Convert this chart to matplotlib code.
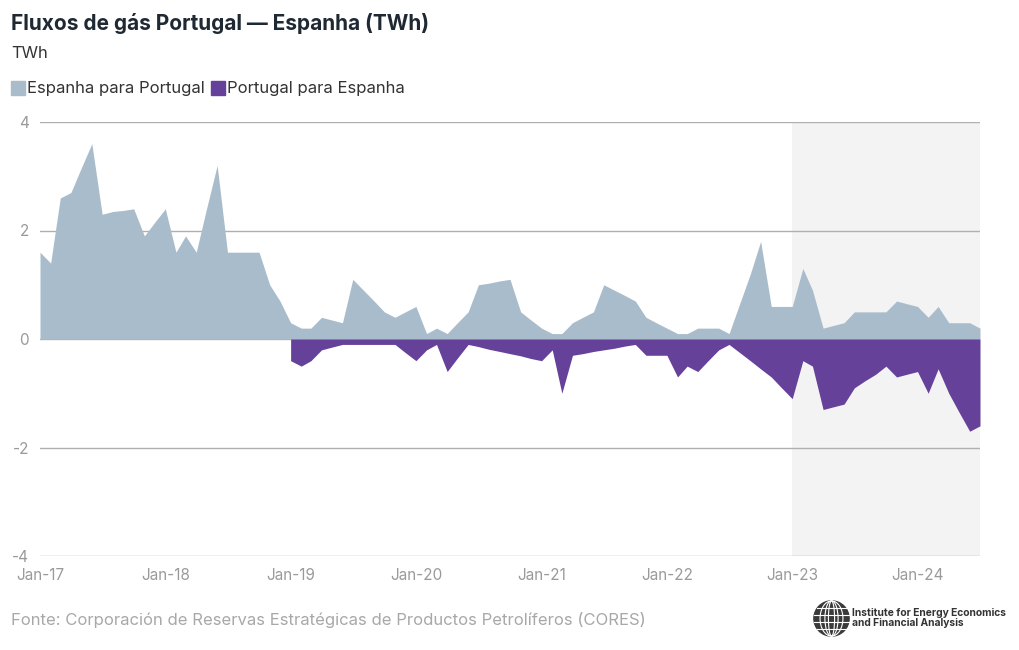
# Portugal <-> Spain monthly gas flows, Jan-2017 to Jul-2024 (TWh).
# Positive = Spain to Portugal, negative = Portugal to Spain.

import matplotlib
matplotlib.use("Agg")

import matplotlib.pyplot as plt
import matplotlib.dates as mdates
from matplotlib.lines import Line2D
from matplotlib.patches import Circle, Ellipse
import numpy as np
import pandas as pd

plt.rcParams["font.family"] = ["Inter", "DejaVu Sans"]

months = pd.date_range("2017-01-01", periods=91, freq="MS")

# Espanha para Portugal
es_to_pt = [
    1.6, 1.4, 2.6, 2.7, 3.15, 3.6, 2.3, 2.35, 2.37, 2.4, 1.9, 2.15,   # 2017
    2.4, 1.6, 1.9, 1.6, 2.4, 3.2, 1.6, 1.6, 1.6, 1.6, 1.0, 0.7,       # 2018
    0.3, 0.2, 0.2, 0.4, 0.35, 0.3, 1.1, 0.9, 0.7, 0.5, 0.4, 0.5,      # 2019
    0.6, 0.1, 0.2, 0.1, 0.3, 0.5, 1.0, 1.03, 1.07, 1.1, 0.5, 0.35,    # 2020
    0.2, 0.1, 0.1, 0.3, 0.4, 0.5, 1.0, 0.9, 0.8, 0.7, 0.4, 0.3,       # 2021
    0.2, 0.1, 0.1, 0.2, 0.2, 0.2, 0.1, 0.65, 1.2, 1.8, 0.6, 0.6,      # 2022
    0.6, 1.3, 0.9, 0.2, 0.25, 0.3, 0.5, 0.5, 0.5, 0.5, 0.7, 0.65,     # 2023
    0.6, 0.4, 0.6, 0.3, 0.3, 0.3, 0.2,                                # 2024
]

# Portugal para Espanha (no data before 2019)
pt_to_es = [np.nan] * 24 + [
    -0.4, -0.5, -0.4, -0.2, -0.15, -0.1, -0.1, -0.1, -0.1, -0.1, -0.1, -0.25,       # 2019
    -0.4, -0.2, -0.1, -0.6, -0.35, -0.1, -0.14, -0.19, -0.23, -0.27, -0.31, -0.36,  # 2020
    -0.4, -0.2, -1.0, -0.3, -0.27, -0.23, -0.2, -0.17, -0.13, -0.1, -0.3, -0.3,     # 2021
    -0.3, -0.7, -0.5, -0.6, -0.4, -0.2, -0.1, -0.25, -0.4, -0.55, -0.7, -0.9,       # 2022
    -1.1, -0.4, -0.5, -1.3, -1.25, -1.2, -0.9, -0.77, -0.65, -0.5, -0.7, -0.65,     # 2023
    -0.6, -1.0, -0.55, -1.0, -1.35, -1.7, -1.6,                                     # 2024
]

yticks = [-4, -2, 0, 2, 4]

BLUE = "#a9bccb"
PURPLE = "#65419a"
GRID = "#b0b0b0"
TICK = "#9a9a9a"

fig = plt.figure(figsize=(10.2, 6.5), dpi=100)
ax = fig.add_axes([40 / 1020, 94 / 650, 940 / 1020, 434 / 650])

ax.axvspan(pd.Timestamp("2023-01-01"), months[-1], color="#f3f3f3", lw=0, zorder=0.5)
for y in yticks:
    ax.axhline(y, color=GRID, lw=1, zorder=1)

ax.fill_between(months, 0, es_to_pt, color=BLUE, lw=0, zorder=2)
ax.fill_between(months, 0, np.array(pt_to_es, dtype=float), color=PURPLE, lw=0, zorder=2)

ax.set_xlim(months[0], months[-1])
ax.set_ylim(-4, 4)
ax.set_yticks(yticks)
ax.set_yticklabels([str(v) for v in yticks])
ax.xaxis.set_major_locator(mdates.YearLocator())
ax.xaxis.set_major_formatter(mdates.DateFormatter("Jan-%y"))
ax.tick_params(axis="both", length=0, colors=TICK, labelsize=11)
ax.tick_params(axis="y", pad=8)
ax.tick_params(axis="x", pad=9)
for s in ax.spines.values():
    s.set_visible(False)

# header
fig.text(11 / 1020, 1 - 24 / 650, "Fluxos de gás Portugal — Espanha (TWh)",
         fontsize=15, fontweight="bold", color="#1f2933", va="center")
fig.text(11 / 1020, 1 - 53 / 650, "TWh", fontsize=12, color="#333333", va="center")

handles = [
    Line2D([], [], marker="s", ls="", markersize=10, color=BLUE),
    Line2D([], [], marker="s", ls="", markersize=10, color=PURPLE),
]
fig.legend(handles, ["Espanha para Portugal", "Portugal para Espanha"],
           loc="center left", bbox_to_anchor=(8 / 1020, 1 - 89 / 650), ncol=2,
           frameon=False, fontsize=12, handlelength=0.6, handletextpad=0.25,
           columnspacing=0.5, borderaxespad=0, borderpad=0.3,
           labelcolor="#333333")

# footer
fig.text(11 / 1020, 1 - 620 / 650,
         "Fonte: Corporación de Reservas Estratégicas de Productos Petrolíferos (CORES)",
         fontsize=12, color="#a8a8a8", va="center")
fig.text(852 / 1020, 1 - 618 / 650,
         "Institute for Energy Economics\nand Financial Analysis",
         fontsize=7.4, fontweight="bold", color="#333333", va="center",
         linespacing=1.0)

# rough globe logo
lax = fig.add_axes([813 / 1020, 1 - 637 / 650, 37 / 1020, 37 / 650])
lax.set_xlim(-1.05, 1.05)
lax.set_ylim(-1.05, 1.05)
lax.set_aspect("equal")
lax.axis("off")
lax.add_patch(Circle((0, 0), 1, color="#3a3a3a"))
for w in (0.35, 0.75, 1.3):
    lax.add_patch(Ellipse((0, 0), w, 2, fill=False, ec="white", lw=0.8))
for yy in (-0.6, -0.2, 0.2, 0.6):
    half = np.sqrt(1 - yy ** 2)
    lax.plot([-half, half], [yy, yy], color="white", lw=0.8)

fig.savefig("out.png", dpi=100)
